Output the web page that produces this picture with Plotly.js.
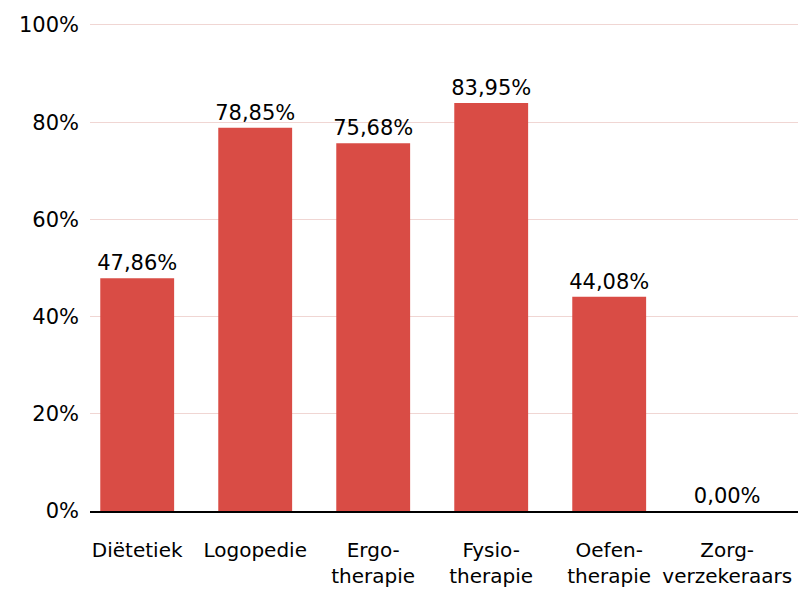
<!DOCTYPE html>
<html><head><meta charset="utf-8">
<script src="https://cdn.plot.ly/plotly-3.0.1.min.js"></script>
<style>html,body{margin:0;padding:0;background:#fff}#chart{width:798px;height:589px}</style>
</head><body><div id="chart"></div>
<script>
const categories = ["Diëtetiek", "Logopedie", "Ergo-<br>therapie", "Fysio-<br>therapie", "Oefen-<br>therapie", "Zorg-<br>verzekeraars"];
const values = [47.86, 78.85, 75.68, 83.95, 44.08, 0.00];
const yTicks = [0, 20, 40, 60, 80, 100];
const yTickText = ["0%", "20%", "40%", "60%", "80%", "100%"];

const trace = {
  type: 'bar',
  x: categories,
  y: values,
  marker: {color: '#d94c45'},
  texttemplate: '%{y:.2f}%',
  textposition: 'outside',
  constraintext: 'none',
  textfont: {family: 'DejaVu Sans', size: 21, color: '#000'},
  cliponaxis: false,
  hoverinfo: 'none'
};
const layout = {
  width: 798, height: 589,
  margin: {l: 90, r: 0, t: 23, b: 78},
  paper_bgcolor: '#fff', plot_bgcolor: '#fff',
  separators: ',.',
  showlegend: false,
  bargap: 0.374,
  font: {family: 'DejaVu Sans', size: 20, color: '#000'},
  xaxis: {
    range: [-0.4, 5.6], showgrid: false, ticks: '',
    showline: true, linecolor: '#000', linewidth: 2,
    tickfont: {size: 20}, ticklabelstandoff: 20, zeroline: false
  },
  yaxis: {
    range: [0, 100.4], tickvals: yTicks, ticktext: yTickText,
    showgrid: true, gridcolor: '#f0d6d3', gridwidth: 1,
    zeroline: false, showline: false, ticks: '',
    tickfont: {size: 21}, ticklabelstandoff: 10
  }
};
Plotly.newPlot('chart', [trace], layout, {displayModeBar: false, staticPlot: true});
</script></body></html>
